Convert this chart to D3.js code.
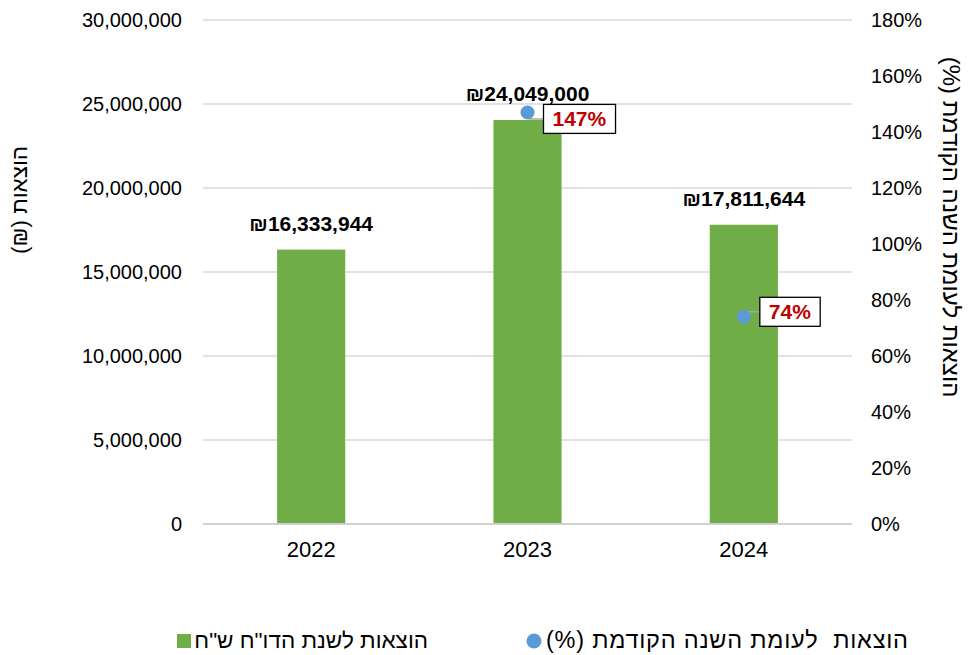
<!DOCTYPE html>
<html>
<head>
<meta charset="utf-8">
<script src="https://cdnjs.cloudflare.com/ajax/libs/d3/7.8.5/d3.min.js"></script>
<style>
  body { margin: 0; background: #fff; }
  svg { font-family: "Liberation Sans", Arial, sans-serif; }
</style>
</head>
<body>
<svg id="chart" width="977" height="655"></svg>
<script>
// data
var years = ["2022", "2023", "2024"];
var expenses = [16333944, 24049000, 17811644];
var changePct = [null, 147, 74];
var leftTicks = [0, 5000000, 10000000, 15000000, 20000000, 25000000, 30000000];
var rightTicks = [0, 20, 40, 60, 80, 100, 120, 140, 160, 180];

var barName = "הוצאות לשנת הדו\"ח ש\"ח";
var dotName = "הוצאות  לעומת השנה הקודמת (%)";
var leftTitle = "הוצאות (₪)";
var rightTitle = "הוצאות לעומת השנה הקודמת (%)";

(function comboChart() {
    var svg = d3.select("#chart"),
        margin = {top: 20, right: 125, bottom: 131, left: 203},
        width = +svg.attr("width") - margin.left - margin.right,
        height = +svg.attr("height") - margin.top - margin.bottom,
        g = svg.append("g").attr("transform", "translate(" + margin.left + "," + margin.top + ")");

    var x = d3.scaleBand().domain(years).range([0, width]).padding(0);
    var y = d3.scaleLinear().domain([0, 30000000]).range([height, 0]);
    var y2 = d3.scaleLinear().domain([0, 180]).range([height, 0]);
    var barW = x.bandwidth() * 0.315;
    var fmt = d3.format(",");

    // grid lines
    g.append("g")
        .selectAll("line")
        .data(leftTicks.slice(1))
        .enter().append("line")
        .attr("x1", 0).attr("x2", width)
        .attr("y1", function (d) { return y(d); })
        .attr("y2", function (d) { return y(d); })
        .attr("stroke", "#d9d9d9")
        .attr("stroke-width", 1.3);

    // left axis
    var yAxis = g.append("g")
        .call(d3.axisLeft(y).tickValues(leftTicks).tickFormat(fmt).tickSize(0).tickPadding(21));
    yAxis.select(".domain").remove();
    yAxis.selectAll("text").attr("font-size", "20px").attr("fill", "#000")
        .attr("font-family", "Liberation Sans, Arial, sans-serif");

    // right axis
    var y2Axis = g.append("g")
        .attr("transform", "translate(" + width + ",0)")
        .call(d3.axisRight(y2).tickValues(rightTicks).tickFormat(function (d) { return d + "%"; }).tickSize(0).tickPadding(19));
    y2Axis.select(".domain").remove();
    y2Axis.selectAll("text").attr("font-size", "20px").attr("fill", "#000")
        .attr("font-family", "Liberation Sans, Arial, sans-serif");

    // bars
    g.append("g")
        .selectAll("rect")
        .data(expenses)
        .enter().append("rect")
        .attr("x", function (d, i) { return x(years[i]) + x.bandwidth() / 2 - barW / 2; })
        .attr("y", function (d) { return y(d); })
        .attr("width", barW)
        .attr("height", function (d) { return height - y(d); })
        .attr("fill", "#70ad47");

    // baseline
    g.append("line")
        .attr("x1", 0).attr("x2", width)
        .attr("y1", height).attr("y2", height)
        .attr("stroke", "#d0d0d0")
        .attr("stroke-width", 1.8);

    // x axis
    var xAxis = g.append("g")
        .attr("transform", "translate(0," + height + ")")
        .call(d3.axisBottom(x).tickSize(0).tickPadding(17));
    xAxis.select(".domain").remove();
    xAxis.selectAll("text").attr("font-size", "22px").attr("fill", "#000")
        .attr("font-family", "Liberation Sans, Arial, sans-serif");

    // bar value labels
    g.append("g")
        .selectAll("text")
        .data(expenses)
        .enter().append("text")
        .attr("x", function (d, i) { return x(years[i]) + x.bandwidth() / 2; })
        .attr("y", function (d) { return y(d) - 18.5; })
        .attr("text-anchor", "middle")
        .attr("font-size", "21px")
        .attr("font-weight", "bold")
        .attr("fill", "#000")
        .text(function (d) { return "₪" + fmt(d); });

    // percent points with labels
    var pts = changePct.map(function (v, i) { return {year: years[i], v: v}; })
        .filter(function (d) { return d.v !== null; });
    var offY = {"2023": 6.5, "2024": -5};

    var lab = g.append("g").selectAll("g")
        .data(pts)
        .enter().append("g");

    lab.append("path")
        .attr("d", function (d) {
            var cx = x(d.year) + x.bandwidth() / 2, cy = y2(d.v), my = cy + offY[d.year];
            return "M" + cx + "," + cy + "L" + (cx + 2) + "," + my + "L" + (cx + 16) + "," + my;
        })
        .attr("fill", "none")
        .attr("stroke", "#a6a6a6")
        .attr("stroke-width", 1.5);

    lab.append("circle")
        .attr("cx", function (d) { return x(d.year) + x.bandwidth() / 2; })
        .attr("cy", function (d) { return y2(d.v); })
        .attr("r", 7)
        .attr("fill", "#5b9bd5");

    lab.append("text")
        .attr("x", function (d) { return x(d.year) + x.bandwidth() / 2 + 16 + 9; })
        .attr("y", function (d) { return y2(d.v) + offY[d.year] + 7.5; })
        .attr("font-size", "21px")
        .attr("font-weight", "bold")
        .attr("fill", "#c00000")
        .text(function (d) { return d.v + "%"; });

    lab.each(function () {
        var t = d3.select(this).select("text"), bb = t.node().getBBox();
        d3.select(this).insert("rect", "text")
            .attr("x", bb.x - 9).attr("y", bb.y - 3)
            .attr("width", bb.width + 18).attr("height", bb.height + 6)
            .attr("fill", "#fff")
            .attr("stroke", "#000")
            .attr("stroke-width", 1.3);
    });

    // axis titles
    svg.append("text")
        .attr("transform", "translate(19,200) rotate(-90)")
        .attr("text-anchor", "middle")
        .attr("dominant-baseline", "central")
        .attr("direction", "rtl")
        .attr("font-size", "22.5px")
        .attr("fill", "#000")
        .text(leftTitle);

    svg.append("text")
        .attr("transform", "translate(951,227) rotate(90)")
        .attr("text-anchor", "middle")
        .attr("dominant-baseline", "central")
        .attr("direction", "rtl")
        .attr("font-size", "24px")
        .attr("fill", "#000")
        .text(rightTitle);

    // legend
    var legend = svg.append("g").attr("font-size", "22.5px");
    legend.append("rect")
        .attr("x", 177).attr("y", 634)
        .attr("width", 14).attr("height", 14)
        .attr("fill", "#70ad47");
    legend.append("text")
        .attr("x", 428).attr("y", 648)
        .attr("direction", "rtl")
        .attr("text-anchor", "start")
        .attr("fill", "#000")
        .text(barName);
    legend.append("circle")
        .attr("cx", 534).attr("cy", 641)
        .attr("r", 7.5)
        .attr("fill", "#5b9bd5");
    legend.append("text")
        .attr("x", 908).attr("y", 648)
        .attr("direction", "rtl")
        .attr("text-anchor", "start")
        .attr("fill", "#000")
        .attr("font-size", "23.5px")
        .attr("xml:space", "preserve")
        .style("white-space", "pre")
        .attr("textLength", 362)
        .attr("lengthAdjust", "spacing")
        .text(dotName);
}());
</script>
</body>
</html>
